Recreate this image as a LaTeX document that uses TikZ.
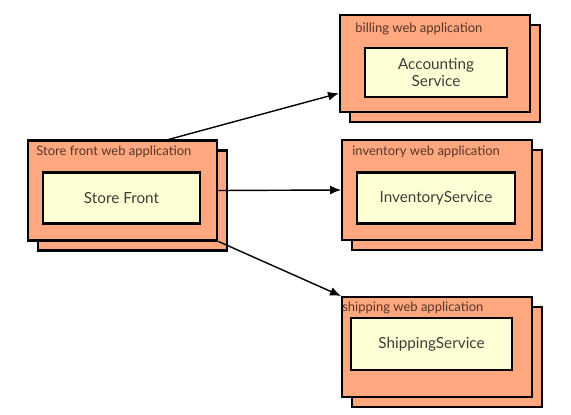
\documentclass[tikz,border=0pt]{standalone}
\usepackage{fontspec}
\setmainfont{Lato}
\usetikzlibrary{arrows.meta,calc,positioning}
\definecolor{appfill}{RGB}{255,168,128}
\definecolor{servicefill}{RGB}{255,255,214}
\definecolor{titletext}{RGB}{86,52,40}
\definecolor{servicetext}{RGB}{64,60,56}
\tikzset{
    deploy diagram/.style = {>={Latex[length=2.2mm,width=1.8mm]}},
    app/.style       = {draw, line width=1.15pt, fill=appfill,
                        minimum width=3.8cm, minimum height=2cm},
    service/.style   = {draw, line width=1.15pt, fill=servicefill,
                        minimum width=3.15cm, minimum height=1.02cm,
                        font=\fontsize{8.7}{10}\selectfont, text=servicetext,
                        align=center},
    apptitle/.style  = {anchor=west, inner sep=0pt,
                        font=\fontsize{7.4}{8.5}\selectfont, text=titletext},
    call/.style      = {->, line width=0.8pt}
}

\begin{document}
\begin{tikzpicture}[deploy diagram, x=0.02cm, y=-0.02cm]
\useasboundingbox (0,0) rectangle (571,415);

% Store front application with its stacked copy behind.
\node[app] (storeback) at (132.5,200.5) {};
\node[app] (storeapp) at (122.5,190.5) {};
\node[apptitle] (storetitle) at (36,152) {Store front web application};
\node[service] (storefront) at (121.5,198) {Store Front};

% Billing application.
\node[app, minimum height=1.95cm] (billingback) at (445,73.5) {};
\node[app, minimum height=1.95cm] (billingapp) at (435,63.5) {};
\node[apptitle] (billingtitle) at (355,29) {billing web application};
\node[service, minimum width=2.85cm, minimum height=0.98cm]
    (accounting) at (436,72.5) {Accounting\\Service};

% Inventory application.
\node[app] (inventoryback) at (447,200) {};
\node[app] (inventoryapp) at (437,190) {};
\node[apptitle] (inventorytitle) at (352,152) {inventory web application};
\node[service] (inventory) at (436,198) {InventoryService};

% Shipping application.
\node[app] (shippingback) at (447,357) {};
\node[app] (shippingapp) at (437,347) {};
\node[apptitle] (shippingtitle) at (342,308) {shipping web application};
\node[service, minimum width=3.22cm, minimum height=1.04cm]
    (shipping) at (431.5,344) {ShippingService};

% Calls from the store front.
\draw[call] ([xshift=0.92cm]storeapp.north) -- ([yshift=0.4cm]billingapp.south west);
\draw[call] (storeapp.east) -- (inventoryapp.west);
\draw[call] (storeapp.south east) -- (shippingapp.north west);

\end{tikzpicture}
\end{document}
